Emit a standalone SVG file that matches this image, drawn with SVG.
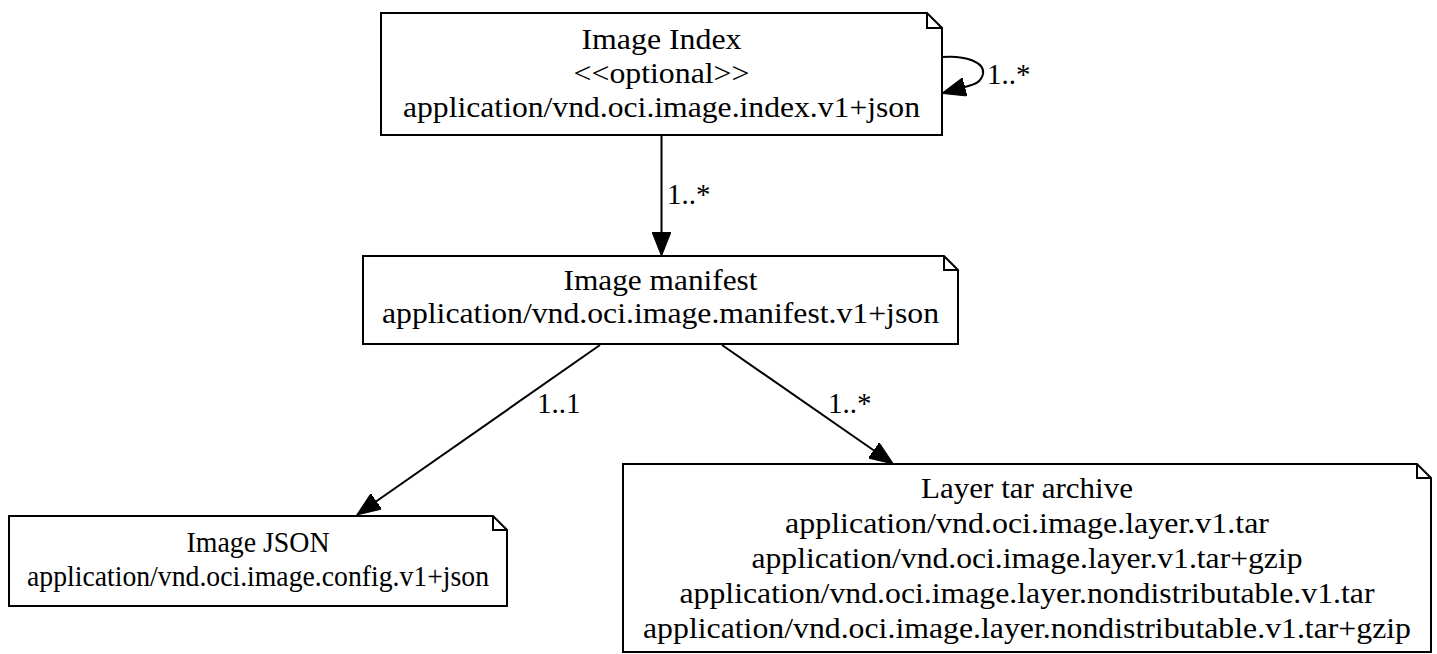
<svg xmlns="http://www.w3.org/2000/svg" width="1437" height="654" viewBox="0 0 1437 654" font-family="Liberation Serif, serif">
<style>
.note{fill:#fff;stroke:#000;stroke-width:2}
.fold{fill:none;stroke:#000;stroke-width:2}
.t{font-size:29px;fill:#000;text-anchor:middle}
.lbl{font-size:29px;fill:#000}
.edge{fill:none;stroke:#000;stroke-width:2}
</style>
<defs>
<marker id="arr" markerUnits="userSpaceOnUse" viewBox="0 0 24 19" refX="0" refY="9.5" markerWidth="24" markerHeight="19" orient="auto">
<path d="M0,0 L24,9.5 L0,19 Z" fill="#000" stroke="#000" stroke-width="1"/>
</marker>
</defs>
<rect width="1437" height="654" fill="#fff"/>
<g id="connectors">
<path class="edge" d="M661.5,135 L661.5,232" marker-end="url(#arr)"/>
<text class="lbl" x="667" y="204" font-family="Liberation Serif">1..*</text>
<path class="edge" d="M942,57 C965,55 985,62 983,74 C981,82 976,84 965,87" marker-end="url(#arr)"/>
<text class="lbl" x="987" y="84" font-family="Liberation Serif">1..*</text>
<path class="edge" d="M600,345 L376.4,501.3" marker-end="url(#arr)"/>
<text class="lbl" x="537" y="413" font-family="Liberation Serif">1..1</text>
<path class="edge" d="M722,345 L873.6,450.3" marker-end="url(#arr)"/>
<text class="lbl" x="828" y="413" font-family="Liberation Serif">1..*</text>
</g>
<g id="image-index" font-family="Liberation Serif">
<path class="note" d="M381,13 L927,13 L942,28 L942,135 L381,135 Z"/>
<path class="fold" d="M927,13 L927,28 L942,28"/>
<text class="t" x="661.5" y="49" textLength="160" lengthAdjust="spacingAndGlyphs">Image Index</text>
<text class="t" x="661.5" y="83" textLength="176" lengthAdjust="spacingAndGlyphs">&lt;&lt;optional&gt;&gt;</text>
<text class="t" x="661.5" y="117" textLength="517" lengthAdjust="spacingAndGlyphs">application/vnd.oci.image.index.v1+json</text>
</g>
<g id="image-manifest" font-family="Liberation Serif">
<path class="note" d="M363,256 L944,256 L958,270 L958,344 L363,344 Z"/>
<path class="fold" d="M944,256 L944,270 L958,270"/>
<text class="t" x="660.5" y="290" textLength="194" lengthAdjust="spacingAndGlyphs">Image manifest</text>
<text class="t" x="660.5" y="323" textLength="557" lengthAdjust="spacingAndGlyphs">application/vnd.oci.image.manifest.v1+json</text>
</g>
<g id="image-json" font-family="Liberation Serif">
<path class="note" d="M9,516 L493,516 L507,530 L507,606 L9,606 Z"/>
<path class="fold" d="M493,516 L493,530 L507,530"/>
<text class="t" x="258" y="552" textLength="143" lengthAdjust="spacingAndGlyphs">Image JSON</text>
<text class="t" x="258" y="586" textLength="462" lengthAdjust="spacingAndGlyphs">application/vnd.oci.image.config.v1+json</text>
</g>
<g id="layer-tar" font-family="Liberation Serif">
<path class="note" d="M623,464 L1417,464 L1431,478 L1431,652 L623,652 Z"/>
<path class="fold" d="M1417,464 L1417,478 L1431,478"/>
<text class="t" x="1027" y="498" textLength="212" lengthAdjust="spacingAndGlyphs">Layer tar archive</text>
<text class="t" x="1027" y="533" textLength="484" lengthAdjust="spacingAndGlyphs">application/vnd.oci.image.layer.v1.tar</text>
<text class="t" x="1027" y="568" textLength="551" lengthAdjust="spacingAndGlyphs">application/vnd.oci.image.layer.v1.tar+gzip</text>
<text class="t" x="1027" y="603" textLength="695" lengthAdjust="spacingAndGlyphs">application/vnd.oci.image.layer.nondistributable.v1.tar</text>
<text class="t" x="1027" y="638" textLength="768" lengthAdjust="spacingAndGlyphs">application/vnd.oci.image.layer.nondistributable.v1.tar+gzip</text>
</g>
</svg>
